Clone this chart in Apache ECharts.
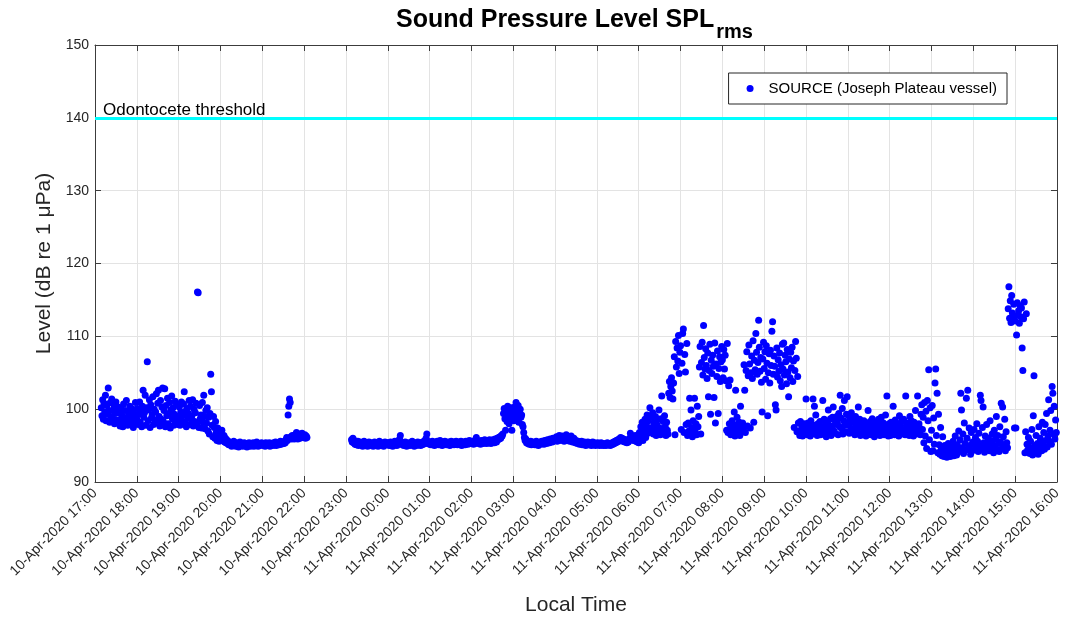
<!DOCTYPE html>
<html>
<head>
<meta charset="utf-8">
<title>Sound Pressure Level SPLrms</title>
<script src="https://cdn.jsdelivr.net/npm/echarts@6/dist/echarts.min.js"></script>
<style>
  html, body { margin: 0; padding: 0; background: #ffffff; }
  #chart { width: 1070px; height: 618px; }
</style>
</head>
<body>
<div id="chart"></div>
<script>
// Hourly tick labels (x axis runs in hours from 10-Apr-2020 17:00)
const tickLabels = [
  '10-Apr-2020 17:00', '10-Apr-2020 18:00', '10-Apr-2020 19:00', '10-Apr-2020 20:00',
  '10-Apr-2020 21:00', '10-Apr-2020 22:00', '10-Apr-2020 23:00', '11-Apr-2020 00:00',
  '11-Apr-2020 01:00', '11-Apr-2020 02:00', '11-Apr-2020 03:00', '11-Apr-2020 04:00',
  '11-Apr-2020 05:00', '11-Apr-2020 06:00', '11-Apr-2020 07:00', '11-Apr-2020 08:00',
  '11-Apr-2020 09:00', '11-Apr-2020 10:00', '11-Apr-2020 11:00', '11-Apr-2020 12:00',
  '11-Apr-2020 13:00', '11-Apr-2020 14:00', '11-Apr-2020 15:00', '11-Apr-2020 16:00'
];

const seriesName = 'SOURCE (Joseph Plateau vessel)';
const thresholdLevel = 140;
const thresholdName = 'Odontocete threshold';
const yTicks = [90, 100, 110, 120, 130, 140, 150];

// SPLrms (dB re 1 µPa), one reading per minute within each hour; null = no recording
const lvl17 = [null, null, null, null, null, null, null, null, null,
  100.2, 99.1, 101.3, 98.6, 100.8, 99.6, 101.9, 98.4, 100.5, 99.3, 102.9, 99.8,
  98.2, 100.9, 99.0, 101.4, 98.7, 99.9, 100.6, 98.0, 99.4, 101.0, 98.5, 99.7, 100.3,
  98.1, 99.5, 97.7, 100.2, 98.8, 99.1, 97.6, 100.7, 98.4, 99.8, 98.0, 101.2, 98.9,
  97.8, 99.6, 98.3, 100.4, 97.9, 99.2, 98.6, 100.0, 97.5, 99.4, 98.2, 100.9, 98.7];
const lvl18 = [98.6, 100.1, 97.9, 99.3, 101.0, 98.2, 99.7, 97.6, 100.4, 102.6, 98.9, 99.5, 101.9, 97.8, 100.2,
  106.5, 98.4, 99.9, 101.3, 97.5, 100.6, 98.8, 99.2, 101.7, 97.9, 100.0, 98.5, 99.6, 102.1, 98.1,
  100.8, 102.6, 99.0, 97.7, 101.2, 98.6, 100.3, 102.9, 98.3, 99.8, 102.8, 97.6, 100.5, 99.1, 101.5,
  98.0, 99.4, 100.9, 97.4, 99.9, 101.8, 98.7, 100.2, 97.8, 99.3, 101.1, 98.4, 100.6, 99.0, 97.9];
const lvl19 = [98.9, 100.3, 97.8, 99.6, 101.0, 98.4, 99.2, 100.7, 102.4, 98.1, 99.7, 97.6, 100.1, 98.8, 99.4,
  101.2, 97.9, 100.4, 98.6, 99.1, 101.3, 97.7, 100.0, 98.3, 99.5, 100.8, 98.0, 116.1, 116.0, 97.5,
  100.5, 98.7, 99.2, 97.4, 100.9, 98.2, 101.9, 99.0, 97.3, 99.8, 98.1, 100.2, 97.0, 98.9, 96.6,
  99.4, 104.8, 102.4, 97.8, 96.2, 99.0, 97.5, 96.0, 98.3, 96.8, 95.7, 97.4, 96.3, 95.6, 97.0];
const lvl20 = [96.6, 95.9, 97.1, 96.2, 95.7, 96.4, 95.5, 96.0, 95.4, 95.8, 95.3, 95.6, 95.1, 95.5, 95.2,
  95.4, 94.9, 95.3, 95.1, 95.6, 95.0, 95.2, 94.9, 95.4, 95.1, 95.3, 94.8, 95.2, 95.5, 95.0,
  95.1, 95.3, 94.9, 95.2, 95.4, 95.0, 95.1, 95.3, 94.8, 95.2, 95.0, 95.4, 95.1, 94.9, 95.3,
  95.0, 95.2, 95.4, 94.9, 95.1, 95.3, 95.0, 95.5, 95.2, 94.9, 95.1, 95.3, 95.0, 95.2, 95.4];
const lvl21 = [95.1, 95.3, 95.0, 95.2, 94.9, 95.4, 95.1, 95.3, 95.0, 95.2, 95.4, 94.9, 95.2, 95.1, 95.3,
  95.0, 95.4, 95.2, 95.1, 95.5, 95.0, 95.3, 95.2, 95.4, 95.1, 95.3, 95.6, 95.2, 95.4, 95.3,
  95.5, 95.3, 95.6, 95.4, 95.8, 96.1, 95.7, 99.2, 100.4, 101.4, 100.9, 96.2, 95.9, 96.4, 96.0,
  96.3, 95.9, 96.5, 96.1, 96.8, 96.2, 95.9, 96.6, 96.3, 96.0, 96.5, 96.2, 96.7, 96.1, 96.4];
const lvl22 = [96.2, 96.5, 96.0, 96.3, 96.1,
  null, null, null, null, null, null, null, null, null, null, null, null, null, null, null,
  null, null, null, null, null, null, null, null, null, null, null, null, null, null, null,
  null, null, null, null, null, null, null, null, null, null, null, null, null, null, null,
  null, null, null, null, null, null, null, null, null, null];
const lvl23 = [null, null, null, null, null, null, null, null,
  95.8, 95.5, 96.0, 95.4, 95.7, 95.2, 95.5, 95.1, 95.4, 95.6,
  95.0, 95.3, 95.5, 95.1, 95.4, 95.2, 94.9, 95.3, 95.6, 95.0,
  95.2, 95.4, 95.1, 94.9, 95.3, 95.5, 95.0, 95.2, 95.4, 95.1,
  95.3, 94.9, 95.2, 95.5, 95.0, 95.3, 95.1, 95.4, 94.9, 95.2,
  95.6, 95.0, 95.3, 95.1, 95.4, 95.2, 94.9, 95.3, 95.5, 95.1,
  95.2, 95.4];
const lvl00 = [95.2, 95.4, 95.0, 95.3, 95.5, 95.1, 95.3, 94.9, 95.2, 95.4,
  95.6, 95.1, 95.3, 95.0, 95.4, 95.2, 95.7, 95.9, 96.4, 95.5,
  95.3, 95.1, 95.4, 95.0, 95.2, 95.5, 95.3, 94.9, 95.2, 95.4,
  95.1, 95.3, 95.0, 95.4, 95.2, 95.6, 95.1, 95.3, 94.9, 95.2,
  95.4, 95.0, 95.3, 95.5, 95.1, 95.2, 95.4, 95.0, 95.3, 95.1,
  95.5, 95.2, 95.4, 95.7, 95.3, 96.0, 96.6, 95.6, 95.3, 95.4];
const lvl01 = [95.2, 95.5, 95.1, 95.4, 95.6, 95.2, 95.3, 95.0, 95.4, 95.5,
  95.2, 95.6, 95.3, 95.1, 95.4, 95.7, 95.2, 95.4, 95.0, 95.3,
  95.5, 95.2, 95.6, 95.3, 95.1, 95.4, 95.2, 95.5, 95.3, 95.0,
  95.4, 95.6, 95.2, 95.3, 95.5, 95.1, 95.4, 95.2, 95.6, 95.3,
  95.1, 95.5, 95.3, 95.4, 95.2, 95.6, 95.0, 95.3, 95.5, 95.2,
  95.4, 95.1, 95.6, 95.3, 95.5, 95.2, 95.4, 95.7, 95.3, 95.5];
const lvl02 = [95.3, 95.6, 95.4, 95.2, 95.5, 95.7, 95.3, 96.1, 95.5, 95.4,
  95.6, 95.3, 95.5, 95.2, 95.7, 95.4, 95.6, 95.3, 95.5, 95.8,
  95.4, 95.6, 95.3, 95.7, 95.5, 95.4, 95.8, 95.6, 95.3, 95.7,
  95.5, 95.8, 95.6, 95.4, 95.9, 95.7, 95.5, 96.0, 95.8, 96.1,
  95.9, 96.2, 96.0, 96.4, 96.3, 96.6, 99.4, 100.1, 98.7, 97.1,
  99.8, 98.3, 100.4, 99.2, 98.0, 99.6, 99.0, 100.2, 97.1, 98.8];
const lvl03 = [99.5, 98.4, 100.3, 99.1, 100.9, 98.6, 99.8, 100.5, 98.2, 99.4,
  100.0, 98.9, 99.2, 97.9, 97.6, 96.8, 96.1, 95.7, 95.9, 95.4,
  95.6, 95.3, 95.5, 95.2, 95.4, 95.6, 95.1, 95.3, 95.5, 95.2,
  95.4, 95.1, 95.3, 95.6, 95.2, 95.4, 95.0, 95.3, 95.5, 95.2,
  95.4, 95.6, 95.3, 95.5, 95.2, 95.7, 95.4, 95.6, 95.3, 95.8,
  95.5, 95.7, 95.4, 95.9, 95.6, 95.8, 95.5, 96.0, 95.7, 95.9];
const lvl04 = [95.7, 95.9, 96.2, 95.6, 96.0, 95.8, 96.4, 95.7, 96.1, 95.9,
  96.3, 95.8, 96.0, 95.6, 96.2, 95.9, 96.5, 95.7, 96.0, 95.8,
  96.1, 95.6, 95.9, 96.3, 95.7, 95.5, 95.8, 96.0, 95.6, 95.4,
  95.7, 95.5, 95.3, 95.6, 95.4, 95.2, 95.5, 95.3, 95.6, 95.1,
  95.4, 95.2, 95.5, 95.3, 95.0, 95.4, 95.2, 95.5, 95.1, 95.3,
  95.2, 95.4, 95.0, 95.3, 95.5, 95.1, 95.4, 95.2, 95.0, 95.3];
const lvl05 = [95.2, 95.4, 95.1, 95.3, 95.0, 95.2, 95.4, 95.1, 95.3, 95.0,
  95.2, 95.1, 95.3, 95.0, 95.2, 95.4, 95.1, 95.3, 95.2, 95.0,
  95.3, 95.1, 95.4, 95.2, 95.5, 95.3, 95.6, 95.4, 95.7, 95.5,
  95.8, 95.6, 95.9, 95.7, 96.1, 95.8, 96.0, 95.6, 95.9, 95.7,
  95.5, 95.8, 95.6, 95.4, 95.7, 95.5, 95.8, 96.0, 96.7, 96.2,
  95.9, 96.3, 95.7, 96.1, 95.8, 96.4, 95.6, 96.0, 95.5, 95.8];
const lvl06 = [95.4, 96.8, 95.9, 97.6, 96.3, 98.2, 95.7, 97.1, 96.5, 98.6,
  96.1, 97.8, 99.2, 96.7, 98.4, 97.3, 100.2, 96.9, 98.9, 97.5,
  99.5, 96.6, 98.1, 97.2, 99.0, 96.4, 97.9, 98.6, 96.8, 99.9,
  97.4, 96.5, 98.7, 101.8, 97.0, 98.3, 96.7, 99.1, 97.6, 96.4,
  98.2, 97.1, 96.6, 102.2, 103.8, 101.6, 103.1, 104.3, 102.5, 101.4,
  103.6, 107.2, 96.5, 109.3, 105.8, 108.4, 106.6, 110.1, 104.9, 107.8];
const lvl07 = [108.7, 97.2, 106.3, 110.4, 111.0, 96.8, 107.5, 105.1, 97.9, 109.0,
  96.4, 98.1, 97.0, 101.5, 96.6, 99.9, 97.5, 96.2, 98.4, 97.1,
  101.5, 96.9, 98.0, 96.5, 100.4, 97.6, 99.0, 105.8, 108.6, 96.6,
  106.4, 109.2, 104.7, 111.5, 107.1, 105.5, 108.3, 106.0, 104.2, 107.7,
  101.7, 105.3, 108.9, 99.3, 106.7, 104.9, 107.4, 105.9, 101.6, 109.1,
  98.1, 106.2, 104.5, 108.0, 99.4, 105.6, 107.2, 103.8, 106.5, 108.6];
const lvl08 = [106.8, 104.3, 108.2, 105.5, 107.4, 103.9, 97.1, 109.0, 96.8, 103.2,
  98.0, 104.0, 96.5, 97.6, 98.4, 96.9, 97.9, 99.6, 96.3, 102.6,
  97.3, 98.9, 96.7, 97.8, 98.2, 96.4, 100.4, 97.5, 96.9, 98.1,
  97.2, 106.1, 102.6, 96.8, 105.3, 107.9, 97.7, 104.6, 108.8, 106.2,
  97.4, 105.0, 107.3, 104.2, 109.4, 98.2, 106.7, 105.4, 110.4, 107.8,
  104.8, 106.4, 112.2, 108.5, 105.2, 107.1, 103.7, 99.6, 106.9, 109.2];
const lvl09 = [105.6, 107.9, 104.1, 108.7, 106.3, 99.1, 105.0, 107.6, 103.6, 108.1,
  106.0, 110.7, 112.0, 104.8, 107.3, 105.9, 100.6, 99.9, 108.4, 104.4,
  106.8, 105.2, 107.7, 103.9, 106.1, 103.1, 108.9, 105.5, 109.1, 104.7,
  107.4, 106.5, 103.5, 108.2, 105.1, 101.7, 106.9, 104.3, 107.8, 105.7,
  108.5, 103.8, 106.6, 97.5, 105.3, 109.3, 107.0, 96.9, 104.5, 98.1,
  97.0, 96.4, 98.3, 96.8, 97.6, 96.3, 97.9, 96.6, 98.0, 96.9];
const lvl10 = [101.4, 97.2, 96.5, 98.1, 96.9, 97.7, 96.3, 98.4, 97.0, 96.6,
  101.4, 97.8, 100.4, 96.8, 99.2, 97.4, 96.4, 98.0, 97.1, 96.7,
  98.3, 96.5, 97.6, 96.9, 101.2, 97.3, 98.6, 96.6, 97.9, 96.2,
  97.5, 98.2, 99.9, 96.8, 97.1, 98.7, 96.4, 97.7, 98.9, 100.3,
  97.0, 98.5, 96.7, 97.9, 99.0, 98.1, 96.5, 99.4, 97.6, 101.9,
  98.8, 97.3, 100.1, 96.6, 98.4, 101.2, 97.8, 96.9, 99.3, 101.7];
const lvl11 = [97.9, 99.1, 96.7, 98.5, 97.4, 99.5, 96.9, 98.2, 97.1, 98.8,
  96.5, 99.0, 97.7, 98.3, 96.8, 100.3, 97.5, 98.6, 96.4, 97.9,
  98.1, 96.6, 97.3, 98.4, 96.9, 97.7, 96.3, 98.0, 97.2, 99.8,
  96.7, 97.6, 98.3, 96.5, 97.1, 98.7, 96.8, 97.4, 96.2, 97.9,
  98.2, 96.6, 97.5, 96.9, 98.6, 97.2, 96.4, 97.8, 98.9, 96.7,
  97.3, 98.1, 96.5, 97.6, 99.2, 96.8, 101.8, 97.4, 96.3, 98.0];
const lvl12 = [97.6, 96.4, 98.2, 97.0, 96.7, 100.4, 97.9, 96.5, 98.5, 97.3,
  96.8, 98.0, 97.4, 96.3, 99.1, 97.7, 96.6, 98.3, 97.1, 96.9,
  98.6, 97.2, 96.5, 101.8, 97.8, 96.8, 98.1, 97.5, 96.4, 99.0,
  97.0, 98.4, 96.7, 97.6, 96.3, 98.2, 97.3, 99.8, 96.6, 97.9,
  101.8, 96.8, 98.0, 97.4, 96.5, 99.3, 100.6, 97.2, 98.9, 95.4,
  100.9, 96.3, 99.7, 94.6, 101.2, 98.4, 105.4, 95.8, 100.2, 94.2];
const lvl13 = [97.1, 100.5, 94.3, 98.8, 95.2, 103.6, 105.5, 96.4, 102.2, 94.0,
  99.3, 95.1, 93.8, 97.5, 94.5, 93.6, 96.2, 94.1, 93.5, 95.0,
  93.9, 94.6, 93.4, 94.2, 95.3, 93.7, 94.4, 93.5, 94.8, 93.8,
  94.3, 95.6, 93.6, 94.9, 96.3, 94.0, 93.7, 95.1, 94.5, 97.0,
  94.2, 95.8, 102.2, 99.9, 94.7, 96.6, 93.9, 98.1, 95.3, 94.4,
  101.5, 96.0, 102.6, 94.6, 97.4, 95.0, 93.8, 96.8, 94.3, 95.5];
const lvl14 = [95.3, 97.2, 94.4, 96.1, 94.9, 98.0, 95.6, 94.2, 96.7, 95.0,
  101.9, 101.2, 94.6, 97.5, 100.3, 95.4, 94.1, 96.3, 95.0, 97.9,
  94.7, 96.0, 95.2, 94.3, 98.4, 95.7, 94.5, 96.6, 95.1, 94.0,
  97.1, 94.8, 95.9, 99.0, 94.4, 96.4, 95.3, 94.2, 97.6, 95.5,
  100.8, 94.6, 100.3, 96.2, 95.0, 98.6, 94.3, 96.9, 95.4, 94.7,
  113.8, 116.8, 112.5, 114.9, 111.9, 115.6, 113.2, 112.8, 114.4, 97.4];
const lvl15 = [112.1, 97.4, 110.2, 114.6, 112.9, 113.5, 111.8, 114.2, 112.7, 113.9,
  108.4, 105.3, 112.4, 114.7, 94.0, 96.9, 113.1, 95.2, 94.4, 96.1,
  94.8, 93.9, 95.6, 94.5, 97.2, 93.7, 99.1, 104.6, 95.0, 94.2,
  96.4, 94.6, 95.3, 93.8, 97.6, 94.9, 96.0, 95.4, 94.3, 98.2,
  95.1, 96.8, 94.5, 97.9, 95.7, 99.4, 94.8, 96.3, 101.3, 95.6,
  97.1, 99.8, 95.2, 103.1, 102.2, 96.6, 100.4, 95.9, 98.5, 96.8];

// Hours in axis order, starting at 17:00 on 10 April
const hourlyLevels = [lvl17, lvl18, lvl19, lvl20, lvl21, lvl22, lvl23, lvl00, lvl01, lvl02,
  lvl03, lvl04, lvl05, lvl06, lvl07, lvl08, lvl09, lvl10, lvl11, lvl12, lvl13, lvl14, lvl15];

// [hours since 17:00, level] pairs for the scatter
const points = [];
hourlyLevels.forEach(function (arr, h) {
  const step = 1 / arr.length;
  arr.forEach(function (v, i) {
    if (v !== null) points.push([h + i * step, v]);
  });
});

const FONT = '"Liberation Sans", Arial, Helvetica, sans-serif';
const AXIS_COLOR = '#3c3c3c';
const TEXT_COLOR = '#262626';
const GRID_COLOR = '#e3e3e3';
const xMax = tickLabels.length - 1;

const chart = echarts.init(document.getElementById('chart'), null, { renderer: 'canvas' });

chart.setOption({
  backgroundColor: '#ffffff',
  animation: false,
  textStyle: { fontFamily: FONT },
  title: {
    text: '{main|Sound Pressure Level SPL}{sub|rms}',
    left: 391,
    top: 3,
    textStyle: {
      rich: {
        main: { fontFamily: FONT, fontSize: 25, fontWeight: 'bold', color: '#000', lineHeight: 30, verticalAlign: 'top' },
        sub: { fontFamily: FONT, fontSize: 20, fontWeight: 'bold', color: '#000', lineHeight: 22, verticalAlign: 'top', padding: [14, 0, 0, 2] }
      }
    }
  },
  legend: {
    data: [{ name: seriesName, icon: 'circle' }],
    right: 63,
    top: 73,
    padding: [8, 10, 8, 18],
    itemWidth: 7,
    itemHeight: 7,
    backgroundColor: '#ffffff',
    borderColor: '#262626',
    borderWidth: 1,
    borderRadius: 0,
    selectedMode: false,
    textStyle: { fontFamily: FONT, fontSize: 15, color: '#000', padding: [0, 0, 0, 10] }
  },
  grid: { left: 95, right: 13, top: 45, bottom: 136, containLabel: false, outerBoundsMode: 'none' },
  xAxis: [{
    type: 'value',
    min: 0,
    max: xMax,
    interval: 1,
    name: 'Local Time',
    nameLocation: 'middle',
    nameGap: 113,
    nameTextStyle: { fontFamily: FONT, fontSize: 21, color: TEXT_COLOR },
    axisLine: { show: true, onZero: false, lineStyle: { color: AXIS_COLOR, width: 1 } },
    axisTick: { show: true, inside: true, length: 6, lineStyle: { color: AXIS_COLOR } },
    axisLabel: {
      rotate: 45,
      margin: 9,
      fontFamily: FONT,
      fontSize: 14,
      color: TEXT_COLOR,
      formatter: function (v) { return tickLabels[Math.round(v)] || ''; }
    },
    splitLine: { show: true, lineStyle: { color: GRID_COLOR, width: 1 } }
  }, {
    type: 'value',
    position: 'top',
    min: 0,
    max: xMax,
    interval: 1,
    axisLine: { show: true, onZero: false, lineStyle: { color: AXIS_COLOR, width: 1 } },
    axisTick: { show: true, inside: true, length: 6, lineStyle: { color: AXIS_COLOR } },
    axisLabel: { show: false },
    splitLine: { show: false }
  }],
  yAxis: [{
    type: 'value',
    min: yTicks[0],
    max: yTicks[yTicks.length - 1],
    interval: yTicks[1] - yTicks[0],
    name: 'Level (dB re 1 μPa)',
    nameLocation: 'middle',
    nameGap: 39,
    nameTextStyle: { fontFamily: FONT, fontSize: 21, color: TEXT_COLOR },
    axisLine: { show: true, onZero: false, lineStyle: { color: AXIS_COLOR, width: 1 } },
    axisTick: { show: true, inside: true, length: 6, lineStyle: { color: AXIS_COLOR } },
    axisLabel: { fontFamily: FONT, fontSize: 14, color: TEXT_COLOR, margin: 6 },
    splitLine: { show: true, lineStyle: { color: GRID_COLOR, width: 1 } }
  }, {
    type: 'value',
    position: 'right',
    min: yTicks[0],
    max: yTicks[yTicks.length - 1],
    interval: yTicks[1] - yTicks[0],
    axisLine: { show: true, onZero: false, lineStyle: { color: AXIS_COLOR, width: 1 } },
    axisTick: { show: true, inside: true, length: 6, lineStyle: { color: AXIS_COLOR } },
    axisLabel: { show: false },
    splitLine: { show: false }
  }],
  series: [{
    name: seriesName,
    type: 'scatter',
    xAxisIndex: 0,
    yAxisIndex: 0,
    symbol: 'circle',
    symbolSize: 7,
    itemStyle: { color: '#0000ff', opacity: 1 },
    emphasis: { disabled: true },
    data: points,
    markLine: {
      silent: true,
      symbol: 'none',
      animation: false,
      lineStyle: { color: '#00ffff', width: 3, type: 'solid' },
      label: {
        show: true,
        position: 'insideStartTop',
        formatter: thresholdName,
        fontFamily: FONT,
        fontSize: 17,
        color: '#000',
        distance: [8, -1]
      },
      data: [{ yAxis: thresholdLevel }]
    }
  }]
});
</script>
</body>
</html>
